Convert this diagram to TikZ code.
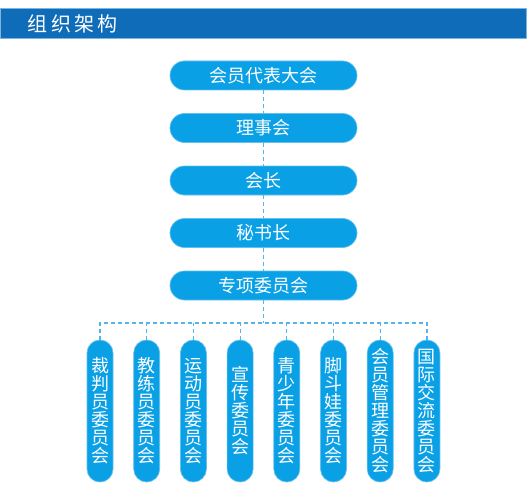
\documentclass[tikz,border=0pt]{standalone}
\usepackage{fontspec}
\newfontfamily\cjk{Noto Sans CJK SC}
\definecolor{hdrblue}{RGB}{14,108,184}
\definecolor{hdredge}{RGB}{122,182,224}
\definecolor{nodeblue}{RGB}{10,160,230}
\definecolor{nodeedge}{RGB}{100,192,238}
\definecolor{dashblue}{RGB}{86,180,234}
\tikzset{
  hbox/.style={rectangle, rounded corners=14.5pt, fill=nodeblue, draw=nodeedge, line width=0.7pt,
    minimum width=187pt, minimum height=29pt, inner sep=0pt, text=white,
    font=\cjk\fontsize{18}{18}\selectfont},
  vbox/.style={rectangle, rounded corners=13pt, fill=nodeblue, draw=nodeedge, line width=0.7pt,
    minimum width=26pt, minimum height=142pt, inner sep=0pt, text=white, align=center,
    font=\cjk\fontsize{18}{18}\selectfont},
  dl/.style={draw=dashblue, line width=1.2pt, dash pattern=on 4pt off 3pt},
  hdrbar/.style={rectangle, fill=hdrblue, draw=hdredge, line width=0.8pt,
    minimum width=526pt, minimum height=30pt, inner sep=0pt},
  hdrtext/.style={text=white, inner sep=0pt, font=\cjk\fontsize{20}{20}\selectfont}
}
\begin{document}
\begin{tikzpicture}[x=1pt,y=-1pt]
\useasboundingbox (0,0) rectangle (527,500);
\node[hdrbar] (hdr) at (263,23.3) {};
\node[hdrtext, anchor=west] (title) at (27.5,23.5) {组\kern3.3pt 织\kern3.3pt 架\kern3.3pt 构};

\node[hbox] (n1) at (263.5,75.5) {会员代表大会};
\node[hbox] (n2) at (263.5,128) {理事会};
\node[hbox] (n3) at (263.5,180.5) {会长};
\node[hbox] (n4) at (263.5,233) {秘书长};
\node[hbox] (n5) at (263.5,285.5) {专项委员会};

\node[vbox] (v1) at (100,411) {裁\\判\\员\\委\\员\\会};
\node[vbox] (v2) at (146.7,411) {教\\练\\员\\委\\员\\会};
\node[vbox] (v3) at (193.4,411) {运\\动\\员\\委\\员\\会};
\node[vbox] (v4) at (240.1,411) {宣\\传\\委\\员\\会};
\node[vbox] (v5) at (286.8,411) {青\\少\\年\\委\\员\\会};
\node[vbox] (v6) at (333.5,411) {脚\\斗\\娃\\委\\员\\会};
\node[vbox] (v7) at (380.2,411) {会\\员\\管\\理\\委\\员\\会};
\node[vbox] (v8) at (426.9,411) {国\\际\\交\\流\\委\\员\\会};

\coordinate (bus) at (263.5,323);

\draw[dl] (n1.south) -- (n2.north);
\draw[dl] (n2.south) -- (n3.north);
\draw[dl] (n3.south) -- (n4.north);
\draw[dl] (n4.south) -- (n5.north);
\draw[dl] (n5.south) -- (bus);
\draw[dl] (v1.north) -- (v1.north |- bus) -- (v8.north |- bus) -- (v8.north);
\foreach \i in {2,...,7} { \draw[dl] (v\i.north) -- (v\i.north |- bus); }
\end{tikzpicture}
\end{document}
